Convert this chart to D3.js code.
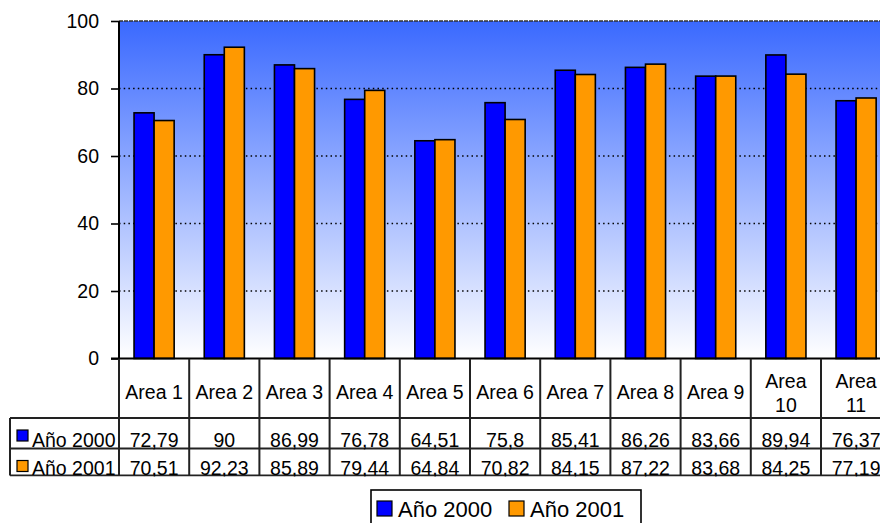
<!DOCTYPE html>
<html>
<head>
<meta charset="utf-8">
<script src="https://cdn.jsdelivr.net/npm/d3@7/dist/d3.min.js"></script>
<style>
  html, body { margin: 0; padding: 0; background: #ffffff; }
  svg { display: block; font-family: "Liberation Sans", Arial, sans-serif; }
</style>
</head>
<body>
<svg id="chart" width="880" height="523"></svg>
<script>
// Categories and series values
const areas = ["Area 1", "Area 2", "Area 3", "Area 4", "Area 5", "Area 6",
               "Area 7", "Area 8", "Area 9", "Area 10", "Area 11"];
const seriesNames = ["Año 2000", "Año 2001"];
const valores2000 = [72.79, 90, 86.99, 76.78, 64.51, 75.8, 85.41, 86.26, 83.66, 89.94, 76.37];
const valores2001 = [70.51, 92.23, 85.89, 79.44, 64.84, 70.82, 84.15, 87.22, 83.68, 84.25, 77.19];
const yTicks = [0, 20, 40, 60, 80, 100];
const colores = ["#0000ff", "#ff9900"];

const series = [valores2000, valores2001];
// Spanish number format with comma decimal separator
const fmt = v => String(v).replace(".", ",");

const svg = d3.select("#chart");

// Plot geometry
const plotLeft = 119, cellW = 70.2;
const plotRight = plotLeft + cellW * areas.length;
const plotTop = 21, plotBottom = 358.5;

const x = d3.scaleBand().domain(areas).range([plotLeft, plotRight]).padding(0);
const y = d3.scaleLinear().domain([0, 100]).range([plotBottom, plotTop]);
// Two bars per group, gap equal to 1.5 bar widths
const barW = x.bandwidth() / 3.5;
const xs = d3.scaleBand().domain([0, 1])
  .range([barW * 0.75, barW * 2.75]).padding(0);

// Background gradient
const defs = svg.append("defs");
const grad = defs.append("linearGradient")
  .attr("id", "fondo").attr("x1", 0).attr("y1", 0).attr("x2", 0).attr("y2", 1);
grad.append("stop").attr("offset", "0%").attr("stop-color", "#3a69ff");
grad.append("stop").attr("offset", "100%").attr("stop-color", "#ffffff");

svg.append("rect")
  .attr("x", plotLeft).attr("y", plotTop)
  .attr("width", plotRight - plotLeft).attr("height", plotBottom - plotTop)
  .attr("fill", "url(#fondo)");

// Dotted gridlines
svg.append("g").selectAll("line")
  .data(yTicks.filter(t => t > 0 && t < 100))
  .join("line")
  .attr("x1", plotLeft).attr("x2", plotRight)
  .attr("y1", d => y(d)).attr("y2", d => y(d))
  .attr("stroke", "#000").attr("stroke-width", 1.3)
  .attr("stroke-dasharray", "1.5,3.2");

// Top border
svg.append("line")
  .attr("x1", plotLeft).attr("x2", plotRight)
  .attr("y1", y(100)).attr("y2", y(100))
  .attr("stroke", "#333").attr("stroke-width", 1.6)
  .attr("stroke-dasharray", "4,1");

// Bars
const groups = svg.append("g").selectAll("g")
  .data(areas)
  .join("g")
  .attr("transform", d => `translate(${x(d)},0)`);

groups.selectAll("rect")
  .data((d, i) => series.map((s, k) => ({ k, v: s[i] })))
  .join("rect")
  .attr("x", d => xs(d.k))
  .attr("y", d => y(d.v))
  .attr("width", xs.bandwidth())
  .attr("height", d => y(0) - y(d.v))
  .attr("fill", d => colores[d.k])
  .attr("stroke", "#000").attr("stroke-width", 1.6);

// Y axis
const yAxis = svg.append("g")
  .attr("transform", `translate(${plotLeft},0)`)
  .call(d3.axisLeft(y).tickValues(yTicks).tickSize(8).tickPadding(12));
yAxis.select(".domain").attr("stroke", "#000").attr("stroke-width", 2)
  .attr("d", `M0,${plotTop}V${plotBottom}`);
yAxis.selectAll(".tick line").attr("stroke", "#000").attr("stroke-width", 1.6);
yAxis.selectAll(".tick text")
  .attr("font-size", 19.5).attr("fill", "#000")
  .attr("font-family", "Liberation Sans, Arial, sans-serif");

// Baseline
svg.append("line")
  .attr("x1", plotLeft - 8).attr("x2", plotRight)
  .attr("y1", plotBottom).attr("y2", plotBottom)
  .attr("stroke", "#000").attr("stroke-width", 2);

// Data table
const hdrBottom = 418, row1Bottom = 448.5, row2Bottom = 475.5;
const tableLeft = 10;
defs.append("clipPath").attr("id", "tabla")
  .append("rect").attr("x", 0).attr("y", plotBottom)
  .attr("width", 880).attr("height", row2Bottom + 1 - plotBottom);

const table = svg.append("g").attr("clip-path", "url(#tabla)");
const lineColor = "#222";

// Horizontal rules
[hdrBottom, row1Bottom, row2Bottom].forEach(yy => {
  table.append("line").attr("x1", tableLeft).attr("x2", plotRight)
    .attr("y1", yy).attr("y2", yy)
    .attr("stroke", lineColor).attr("stroke-width", 2);
});
// Left edge of the row-label column
table.append("line").attr("x1", tableLeft).attr("x2", tableLeft)
  .attr("y1", hdrBottom).attr("y2", row2Bottom)
  .attr("stroke", lineColor).attr("stroke-width", 2);
// Vertical cell dividers
table.append("g").selectAll("line")
  .data(d3.range(areas.length + 1))
  .join("line")
  .attr("x1", i => plotLeft + i * x.step())
  .attr("x2", i => plotLeft + i * x.step())
  .attr("y1", plotBottom).attr("y2", row2Bottom)
  .attr("stroke", lineColor).attr("stroke-width", 2);

// Header labels (long ones wrap onto two lines)
const hdr = table.append("g").selectAll("text")
  .data(areas)
  .join("text")
  .attr("text-anchor", "middle")
  .attr("font-size", 19.5).attr("fill", "#000");
hdr.each(function (d) {
  const cx = x(d) + x.bandwidth() / 2;
  const t = d3.select(this);
  if (d.length > 6) {
    const parts = d.split(" ");
    t.append("tspan").attr("x", cx).attr("y", 388).text(parts[0]);
    t.append("tspan").attr("x", cx).attr("y", 412).text(parts[1]);
  } else {
    t.append("tspan").attr("x", cx).attr("y", 399).text(d);
  }
});

// Row labels with legend keys
const rowBaselines = [446.5, 474.5];
const rowTops = [hdrBottom, row1Bottom];
seriesNames.forEach((name, k) => {
  table.append("rect")
    .attr("x", 17).attr("y", rowTops[k] + 12)
    .attr("width", 11).attr("height", 11)
    .attr("fill", colores[k]).attr("stroke", "#000").attr("stroke-width", 1.2);
  table.append("text")
    .attr("x", 32).attr("y", rowBaselines[k])
    .attr("font-size", 19.5).attr("fill", "#000")
    .text(name);
  table.append("g").selectAll("text")
    .data(series[k])
    .join("text")
    .attr("x", (d, i) => x(areas[i]) + x.bandwidth() / 2)
    .attr("y", rowBaselines[k])
    .attr("text-anchor", "middle")
    .attr("font-size", 19.5).attr("fill", "#000")
    .text(d => fmt(d));
});

// Legend
const legend = svg.append("g");
legend.append("rect")
  .attr("x", 371).attr("y", 490).attr("width", 270).attr("height", 45)
  .attr("fill", "#fff").attr("stroke", "#000").attr("stroke-width", 1.6);
const legX = [377, 509];
seriesNames.forEach((name, k) => {
  legend.append("rect")
    .attr("x", legX[k]).attr("y", 501).attr("width", 15).attr("height", 15)
    .attr("fill", colores[k]).attr("stroke", "#000").attr("stroke-width", 1.2);
  legend.append("text")
    .attr("x", legX[k] + 21).attr("y", 516.5)
    .attr("font-size", 22).attr("fill", "#000")
    .text(name);
});
</script>
</body>
</html>
